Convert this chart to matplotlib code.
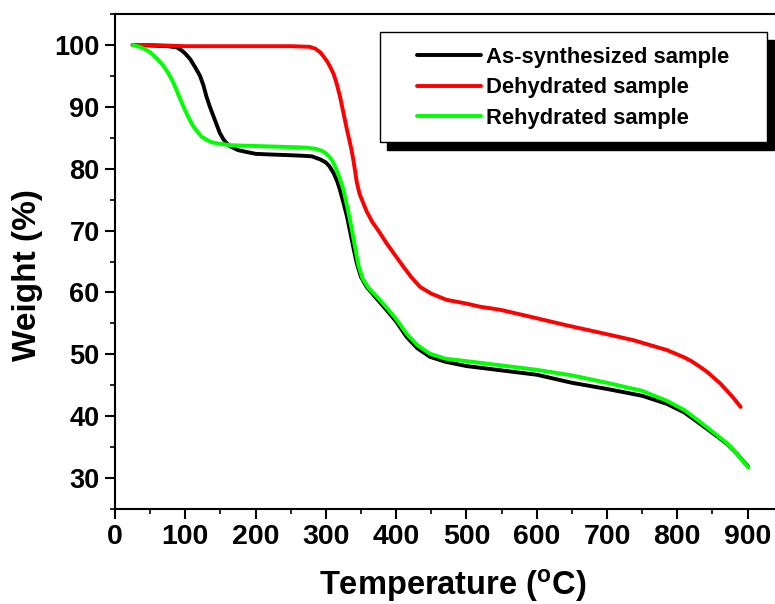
import matplotlib
matplotlib.use("Agg")
import matplotlib.pyplot as plt
from matplotlib.patches import Rectangle
from matplotlib.transforms import offset_copy
from matplotlib.ticker import MultipleLocator

plt.rcParams['font.family'] = ['Liberation Sans', 'DejaVu Sans']
plt.rcParams['font.weight'] = 'bold'
plt.rcParams['mathtext.fontset'] = 'custom'
plt.rcParams['mathtext.rm'] = 'Liberation Sans:bold'
plt.rcParams['mathtext.it'] = 'Liberation Sans:bold'
plt.rcParams['mathtext.bf'] = 'Liberation Sans:bold'

# ---- data ----
labels = ["As-synthesized sample", "Dehydrated sample", "Rehydrated sample"]
colors = ["#000000", "#ff0000", "#00ff00"]

t_as = [25, 50, 75, 88, 95, 100, 107, 114, 121, 126, 130, 135, 140, 145, 149, 154, 158, 164, 175,
        187, 200, 220, 244, 265, 280, 292, 300, 305, 311, 316, 320, 325, 330, 334, 340, 344, 350,
        358, 370, 386, 400, 415, 430, 448, 470, 500, 550, 600, 650, 700, 750, 785, 810, 832, 850,
        870, 885, 901]
w_as = [100, 99.9, 99.8, 99.6, 99.1, 98.6, 97.7, 96.4, 95.0, 93.4, 91.7, 90.0, 88.5, 87.0, 85.8,
        84.8, 84.2, 83.6, 83.0, 82.7, 82.4, 82.3, 82.2, 82.1, 82.0, 81.5, 81.0, 80.4, 79.3, 78.0,
        76.6, 74.5, 72.3, 70.1, 66.8, 64.7, 62.5, 60.9, 59.3, 57.2, 55.3, 52.8, 51.0, 49.6, 48.8,
        48.1, 47.4, 46.7, 45.4, 44.4, 43.3, 42.0, 40.6, 38.8, 37.3, 35.6, 33.9, 31.8]

t_de = [25, 50, 100, 150, 200, 250, 277, 285, 292, 297, 302, 306, 311, 315, 320, 325, 330, 336,
        339, 344, 348, 353, 358, 366, 377, 386, 398, 410, 422, 434, 450, 472, 500, 519, 548, 590,
        642, 690, 737, 785, 810, 820, 832, 842, 852, 861, 870, 881, 890]
w_de = [100, 100, 99.8, 99.8, 99.8, 99.8, 99.7, 99.4, 98.8, 98.1, 97.3, 96.5, 95.3, 93.9, 91.7,
        89.0, 86.3, 83.3, 81.5, 77.8, 75.9, 74.5, 73.1, 71.4, 69.6, 68.0, 66.1, 64.2, 62.4, 60.9,
        59.8, 58.8, 58.2, 57.7, 57.2, 56.1, 54.7, 53.5, 52.3, 50.7, 49.5, 48.9, 48.0, 47.2, 46.2,
        45.3, 44.2, 42.8, 41.5]

t_re = [25, 35, 43, 50, 57, 63, 69, 76, 83, 90, 97, 104, 111, 117, 123, 130, 137, 145, 164, 190,
        220, 250, 273, 286, 294, 300, 306, 311, 318, 325, 332, 337, 342, 346, 352, 360, 372, 386,
        400, 415, 430, 448, 470, 500, 550, 600, 650, 700, 750, 785, 810, 832, 850, 870, 885, 901]
w_re = [100, 99.7, 99.3, 98.8, 98.1, 97.4, 96.6, 95.4, 93.9, 92.0, 90.1, 88.4, 86.9, 86.0, 85.2,
        84.7, 84.3, 84.1, 83.8, 83.7, 83.6, 83.5, 83.4, 83.2, 82.9, 82.5, 81.8, 80.9, 79.0, 76.6,
        73.0, 70.1, 67.0, 64.5, 62.3, 60.8, 59.4, 57.6, 55.7, 53.3, 51.5, 50.1, 49.3, 48.9, 48.2,
        47.5, 46.6, 45.4, 44.1, 42.5, 41.0, 39.1, 37.5, 35.7, 33.9, 31.7]

x_ticks = [0, 100, 200, 300, 400, 500, 600, 700, 800, 900]
y_ticks = [30, 40, 50, 60, 70, 80, 90, 100]

fig = plt.figure(figsize=(7.75, 6.04), dpi=100)
ax = fig.add_axes([115 / 775, 95 / 604, 660 / 775, 495 / 604])

series = [(t_as, w_as), (t_de, w_de), (t_re, w_re)]
for (t, w), lab, c in zip(series, labels, colors):
    ax.plot(t, w, color=c, lw=2.8, label=lab, solid_capstyle='round', solid_joinstyle='round')

ax.set_xlim(0, 939)
ax.set_ylim(25, 105)
ax.set_xticks(x_ticks)
ax.set_yticks(y_ticks)
ax.xaxis.set_minor_locator(MultipleLocator(50))
ax.yaxis.set_minor_locator(MultipleLocator(5))
ax.spines['right'].set_visible(False)
for s in ['left', 'bottom', 'top']:
    ax.spines[s].set_linewidth(1.5)
ax.tick_params(which='major', direction='out', length=7, width=1.5, pad=4)
ax.tick_params(which='minor', direction='out', length=3.5, width=1.2)
ax.tick_params(axis='x', which='major', labelsize=20.5, pad=4)
ax.tick_params(axis='y', which='major', labelsize=19.5, pad=4)
ax.tick_params(top=False, right=False)

ax.set_xlabel(r'Temperature ($^{\rm o}$C)', fontsize=23.5, fontweight='bold')
ax.set_ylabel('Weight (%)', fontsize=24, fontweight='bold')
ax.xaxis.set_label_coords((453 - 115) / 660, -(565 - 509) / 495 - 0.005)
ax.yaxis.set_label_coords((43 - 115) / 660, (509 - 275) / 495)

# legend frame with shadow
x0 = (380 - 115) / 660
y0 = (509 - 142) / 495
wbox = (767 - 380) / 660
hbox = (142 - 32) / 495
shadow_tr = offset_copy(ax.transAxes, fig=fig, x=7, y=-8, units='dots')
ax.add_patch(Rectangle((x0, y0), wbox, hbox, transform=shadow_tr, facecolor='black',
                       edgecolor='black', clip_on=False, zorder=5))
ax.add_patch(Rectangle((x0, y0), wbox, hbox, transform=ax.transAxes, facecolor='white',
                       edgecolor='black', lw=1.0, clip_on=False, zorder=6))

leg = ax.legend(loc='upper left', bbox_to_anchor=((417 - 115) / 660, (509 - 47) / 495),
                frameon=False, borderpad=0, borderaxespad=0, handlelength=2.9,
                handletextpad=0.25, labelspacing=0.43,
                prop={'family': 'Liberation Sans', 'weight': 'bold', 'size': 15.8})
leg.set_zorder(7)

fig.savefig('out.png', dpi=100)
